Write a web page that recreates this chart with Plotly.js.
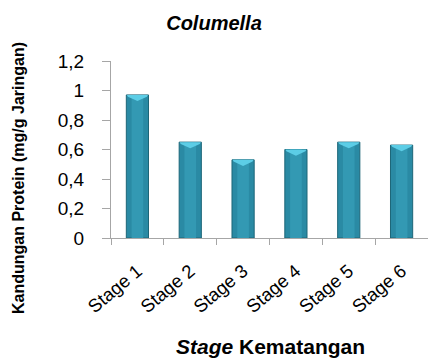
<!DOCTYPE html>
<html>
<head>
<meta charset="utf-8">
<script src="https://cdn.plot.ly/plotly-3.0.1.min.js"></script>
<style>
  html, body { margin: 0; padding: 0; background: #fff; }
  #chart { width: 428px; height: 358px; }
</style>
</head>
<body>
<div id="chart"></div>
<script>
// Protein content per maturation stage (Columella)
const stages = ["Stage 1", "Stage 2", "Stage 3", "Stage 4", "Stage 5", "Stage 6"];
const protein = [0.97, 0.65, 0.53, 0.60, 0.65, 0.63];
const yTicks = [0, 0.2, 0.4, 0.6, 0.8, 1, 1.2];
const yTickText = ["0", "0,2", "0,4", "0,6", "0,8", "1", "1,2"];

const FONT = "Liberation Sans, Arial, sans-serif";
const BAR_W = 0.42;

// main bar body
const body = {
  type: "bar",
  x: stages,
  y: protein,
  width: BAR_W,
  marker: { color: "#2a8aa4", line: { color: "#1d6678", width: 1 } },
  hoverinfo: "x+y"
};
// lighter centre band for a rounded, glossy look
const shine = {
  type: "bar",
  x: stages,
  y: protein,
  width: 0.22,
  marker: { color: "#3399b3", line: { width: 0 } },
  hoverinfo: "skip"
};

// bevelled light cap on top of each bar, built from the bar values
const caps = protein.map((v, i) => ({
  type: "path",
  xref: "x", yref: "y",
  path: `M ${i - BAR_W / 2 + 0.01},${v} L ${i + BAR_W / 2 - 0.01},${v} ` +
        `L ${i + BAR_W / 2 - 0.03},${v - 0.012} L ${i},${v - 0.042} ` +
        `L ${i - BAR_W / 2 + 0.03},${v - 0.012} Z`,
  fillcolor: "#5ccde6",
  line: { width: 0 },
  layer: "above"
}));

const layout = {
  width: 428,
  height: 358,
  margin: { l: 111, r: 0, t: 61, b: 120, pad: 0 },
  paper_bgcolor: "#ffffff",
  plot_bgcolor: "#ffffff",
  showlegend: false,
  barmode: "overlay",
  font: { family: FONT, color: "#000" },
  title: {
    text: "<b><i>Columella</i></b>",
    font: { family: FONT, size: 20, color: "#000" },
    x: 0.5, xref: "container", xanchor: "center",
    y: 0.935, yref: "container", yanchor: "middle"
  },
  xaxis: {
    type: "category",
    range: [-0.5, 5.5],
    showline: true,
    linecolor: "#a6a6a6",
    linewidth: 1,
    ticks: "outside",
    tickson: "boundaries",
    ticklen: 6,
    tickcolor: "#a6a6a6",
    tickangle: -40,
    tickfont: { family: FONT, size: 18.5, color: "#000" },
    ticklabelstandoff: 14,
    showgrid: false,
    zeroline: false,
    automargin: false
  },
  yaxis: {
    range: [0, 1.2],
    tickvals: yTicks,
    ticktext: yTickText,
    showline: true,
    linecolor: "#a6a6a6",
    linewidth: 1,
    ticks: "outside",
    ticklen: 8,
    tickcolor: "#a6a6a6",
    tickfont: { family: FONT, size: 19, color: "#000" },
    ticklabelstandoff: 14,
    showgrid: false,
    zeroline: false,
    automargin: false
  },
  shapes: caps,
  annotations: [
    {
      text: "<b>Kandungan Protein (mg/g Jaringan)</b>",
      font: { family: FONT, size: 16, color: "#000" },
      textangle: -90,
      xref: "paper", x: (18 - 111) / 317, xanchor: "center",
      yref: "paper", y: (238 - 178) / 177, yanchor: "middle",
      showarrow: false
    },
    {
      text: "<b><i>Stage</i> Kematangan</b>",
      font: { family: FONT, size: 21, color: "#000" },
      xref: "paper", x: (270 - 111) / 317, xanchor: "center",
      yref: "paper", y: -(346 - 238) / 177, yanchor: "middle",
      showarrow: false
    }
  ]
};

Plotly.newPlot("chart", [body, shine], layout, { displayModeBar: false, staticPlot: true });
</script>
</body>
</html>
